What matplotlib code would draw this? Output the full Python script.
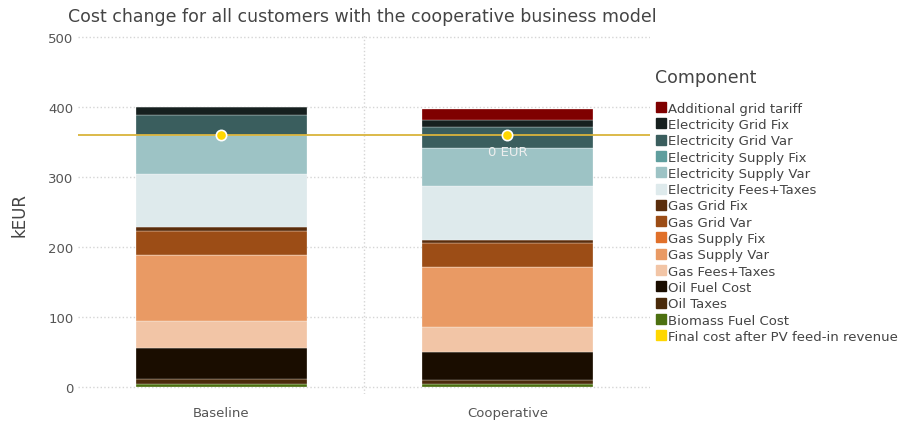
import numpy as np
import matplotlib.pyplot as plt

# scenarios and cost components (kEUR), bottom of the stack first
scenarios = ['Baseline', 'Cooperative']
components = ['Biomass Fuel Cost', 'Oil Taxes', 'Oil Fuel Cost', 'Gas Fees+Taxes',
              'Gas Supply Var', 'Gas Supply Fix', 'Gas Grid Var', 'Gas Grid Fix',
              'Electricity Fees+Taxes', 'Electricity Supply Var', 'Electricity Supply Fix',
              'Electricity Grid Var', 'Electricity Grid Fix', 'Additional grid tariff']
baseline = [4, 7, 44, 39, 94, 1, 34, 5, 77, 54.5, 0, 29, 11, 0]
cooperative = [4, 6, 40, 36, 85, 1, 34, 4, 77, 55, 0, 30, 10, 15]
final_cost = [360.5, 360.5]
final_labels = ['', '0 EUR']

colors = {
    'Additional grid tariff': '#7f0000',
    'Electricity Grid Fix': '#16201f',
    'Electricity Grid Var': '#3a5e5e',
    'Electricity Supply Fix': '#5f9e9e',
    'Electricity Supply Var': '#9dc3c5',
    'Electricity Fees+Taxes': '#deeaec',
    'Gas Grid Fix': '#5a2d0c',
    'Gas Grid Var': '#9c4d16',
    'Gas Supply Fix': '#e0702a',
    'Gas Supply Var': '#e99a64',
    'Gas Fees+Taxes': '#f2c5a6',
    'Oil Fuel Cost': '#1a0d00',
    'Oil Taxes': '#4a2a0a',
    'Biomass Fuel Cost': '#4c7010',
}

fig = plt.figure(figsize=(9.11, 4.27), dpi=100)
ax = fig.add_axes([0.086, 0.075, 0.628, 0.844])

x = np.arange(len(scenarios))
vals = np.array([baseline, cooperative])
bottom = np.zeros(len(scenarios))
for i, comp in enumerate(components):
    ax.bar(x, vals[:, i], 0.6, bottom=bottom, color=colors[comp],
           edgecolor='white', linewidth=0.2, zorder=2)
    bottom += vals[:, i]

ax.axhline(final_cost[0], color='#d9b43c', lw=1.3, zorder=3)
ax.scatter(x, final_cost, s=55, color='#ffd700', edgecolor='white',
           linewidth=1.2, zorder=4)
for xi, yv, lab in zip(x, final_cost, final_labels):
    if lab:
        ax.text(xi, yv - 14, lab, ha='center', va='top', color='#eeeeee', fontsize=9.5, zorder=5)

ax.set_xlim(-0.5, 1.5)
ax.set_ylim(-10, 505)
ax.set_yticks([0, 100, 200, 300, 400, 500])
ax.set_xticks(x)
ax.set_xticklabels(scenarios)
ax.set_xticks([0.5], minor=True)
ax.grid(axis='y', color='#d5d5d5', linestyle=':', lw=1, zorder=0)
ax.grid(axis='x', which='minor', color='#d5d5d5', linestyle=':', lw=1, zorder=0)
ax.tick_params(length=0, labelsize=9.5, labelcolor='#555555', which='both')
ax.tick_params(axis='x', pad=9)
for s in ax.spines.values():
    s.set_visible(False)
ax.set_ylabel('kEUR', fontsize=12, color='#444444', labelpad=14)
fig.text(0.075, 0.96, 'Cost change for all customers with the cooperative business model',
         fontsize=12.5, color='#444444', va='center')

# legend, top entry first
order = ['Additional grid tariff', 'Electricity Grid Fix', 'Electricity Grid Var',
         'Electricity Supply Fix', 'Electricity Supply Var', 'Electricity Fees+Taxes',
         'Gas Grid Fix', 'Gas Grid Var', 'Gas Supply Fix', 'Gas Supply Var',
         'Gas Fees+Taxes', 'Oil Fuel Cost', 'Oil Taxes', 'Biomass Fuel Cost']
leg_handles = [plt.Line2D([], [], marker='s', ls='', markersize=6.5, color=colors[c]) for c in order]
leg_handles.append(plt.Line2D([], [], marker='s', ls='', markersize=6.5, color='#ffd700'))
fig.text(0.719, 0.817, 'Component', fontsize=12.5, color='#444444', va='center')
leg = fig.legend(leg_handles, order + ['Final cost after PV feed-in revenue'],
                 loc='upper left', bbox_to_anchor=(0.712, 0.772), frameon=False,
                 fontsize=9.5, handletextpad=0.1, handlelength=1.0,
                 labelspacing=0.25, borderaxespad=0)
for t in leg.get_texts():
    t.set_color('#444444')

fig.savefig('out.png', dpi=100)
